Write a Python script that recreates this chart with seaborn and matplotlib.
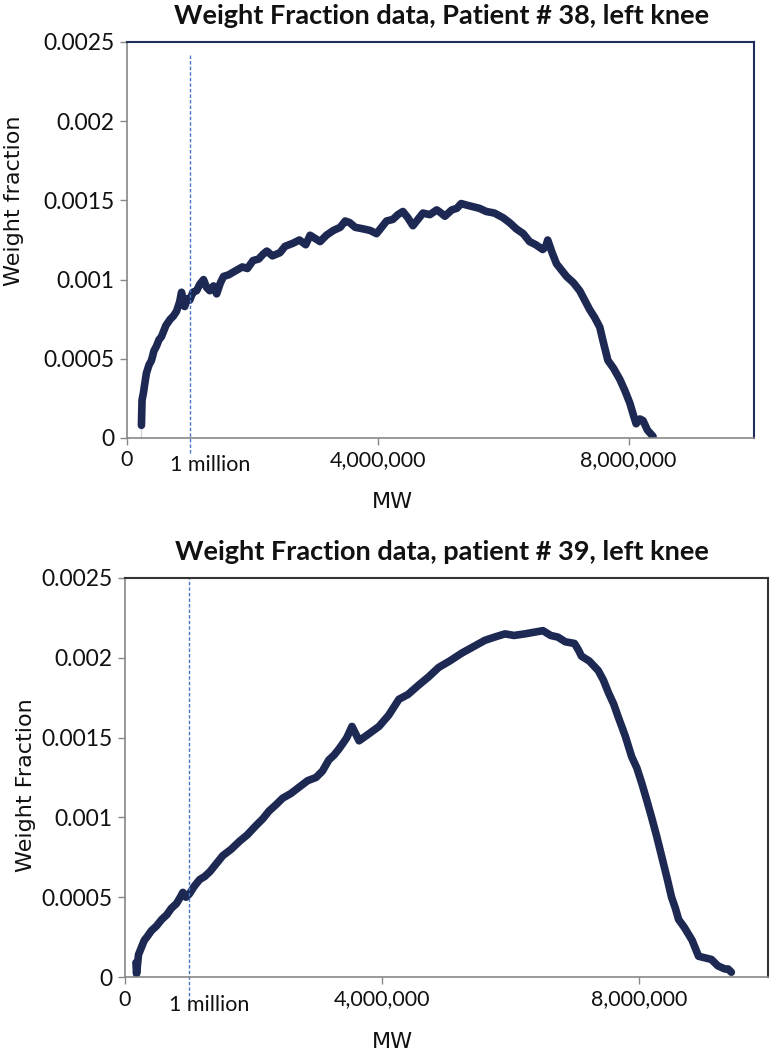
import numpy as np
import pandas as pd
import matplotlib
matplotlib.use("Agg")
import matplotlib.pyplot as plt
import seaborn as sns

# patient 38, MW in millions, weight fraction in 1e-3
mw_38 = [0.23, 0.23, 0.24, 0.26, 0.29, 0.31, 0.35, 0.39, 0.43, 0.47, 0.51, 0.55, 0.62, 0.69,
         0.74, 0.79, 0.84, 0.87, 0.90, 0.92, 0.96, 1.00, 1.05, 1.11, 1.16, 1.22, 1.27, 1.32,
         1.38, 1.43, 1.49, 1.54, 1.62, 1.75, 1.84, 1.92, 2.01, 2.10, 2.17, 2.23, 2.32, 2.44,
         2.52, 2.65, 2.75, 2.85, 2.92, 3.00, 3.08, 3.18, 3.29, 3.40, 3.48, 3.55, 3.64, 3.77,
         3.88, 3.98, 4.06, 4.14, 4.24, 4.32, 4.40, 4.48, 4.56, 4.64, 4.72, 4.83, 4.94, 5.01,
         5.07, 5.18, 5.26, 5.33, 5.42, 5.52, 5.62, 5.73, 5.86, 6.00, 6.10, 6.21, 6.32, 6.42,
         6.52, 6.63, 6.68, 6.71, 6.78, 6.85, 6.93, 7.01, 7.12, 7.22, 7.30, 7.38, 7.46, 7.54,
         7.60, 7.67, 7.76, 7.86, 7.94, 8.02, 8.08, 8.12, 8.18, 8.23, 8.30, 8.39]
wf_38 = [0.00, 0.16, 0.24, 0.28, 0.36, 0.41, 0.46, 0.49, 0.55, 0.58, 0.62, 0.64, 0.71, 0.75,
         0.77, 0.80, 0.86, 0.92, 0.85, 0.83, 0.88, 0.87, 0.92, 0.93, 0.97, 1.00, 0.95, 0.93,
         0.96, 0.91, 0.98, 1.02, 1.03, 1.06, 1.08, 1.07, 1.12, 1.13, 1.16, 1.18, 1.15, 1.17,
         1.21, 1.23, 1.25, 1.22, 1.28, 1.26, 1.24, 1.28, 1.31, 1.33, 1.37, 1.36, 1.33, 1.32,
         1.31, 1.29, 1.33, 1.37, 1.38, 1.41, 1.43, 1.39, 1.34, 1.38, 1.42, 1.41, 1.44, 1.42,
         1.40, 1.44, 1.45, 1.48, 1.47, 1.46, 1.45, 1.43, 1.42, 1.39, 1.36, 1.32, 1.29, 1.24,
         1.22, 1.19, 1.21, 1.25, 1.17, 1.10, 1.06, 1.02, 0.98, 0.93, 0.87, 0.81, 0.76, 0.70,
         0.60, 0.49, 0.44, 0.37, 0.30, 0.22, 0.14, 0.09, 0.12, 0.11, 0.05, 0.01]

# patient 39
mw_39 = [0.17, 0.18, 0.21, 0.26, 0.30, 0.34, 0.41, 0.49, 0.57, 0.65, 0.72, 0.80, 0.86, 0.90,
         0.95, 1.00, 1.08, 1.16, 1.24, 1.32, 1.42, 1.52, 1.65, 1.78, 1.90, 2.04, 2.14, 2.24,
         2.35, 2.45, 2.58, 2.71, 2.84, 2.97, 3.07, 3.17, 3.25, 3.33, 3.40, 3.45, 3.53, 3.58,
         3.64, 3.78, 3.95, 4.10, 4.26, 4.40, 4.57, 4.72, 4.88, 5.05, 5.24, 5.42, 5.60, 5.75,
         5.91, 6.05, 6.22, 6.36, 6.50, 6.62, 6.73, 6.85, 6.99, 7.05, 7.10, 7.22, 7.36, 7.44,
         7.52, 7.60, 7.67, 7.78, 7.88, 7.96, 8.04, 8.12, 8.19, 8.27, 8.35, 8.43, 8.50, 8.56,
         8.61, 8.70, 8.82, 8.88, 8.92, 9.02, 9.12, 9.22, 9.33, 9.38, 9.43]
wf_39 = [0.09, 0.02, 0.14, 0.19, 0.23, 0.25, 0.29, 0.32, 0.36, 0.39, 0.43, 0.46, 0.50, 0.53,
         0.50, 0.52, 0.57, 0.61, 0.63, 0.66, 0.71, 0.76, 0.80, 0.85, 0.89, 0.95, 0.99, 1.04,
         1.08, 1.12, 1.15, 1.19, 1.23, 1.25, 1.29, 1.36, 1.39, 1.43, 1.47, 1.50, 1.57, 1.53,
         1.48, 1.52, 1.57, 1.64, 1.74, 1.77, 1.83, 1.88, 1.94, 1.98, 2.03, 2.07, 2.11, 2.13,
         2.15, 2.14, 2.15, 2.16, 2.17, 2.14, 2.13, 2.10, 2.09, 2.05, 2.01, 1.98, 1.92, 1.86,
         1.78, 1.71, 1.63, 1.51, 1.38, 1.31, 1.21, 1.10, 1.00, 0.88, 0.75, 0.62, 0.50, 0.43,
         0.36, 0.31, 0.23, 0.17, 0.13, 0.12, 0.11, 0.07, 0.05, 0.05, 0.03]

y_ticks = [0, 0.0005, 0.001, 0.0015, 0.002, 0.0025]
y_labels = ["0", "0.0005", "0.001", "0.0015", "0.002", "0.0025"]
x_ticks = [0, 4e6, 8e6]
x_labels = ["0", "4,000,000", "8,000,000"]

sns.set_style("white")
plt.rcParams["font.family"] = ["Lato", "DejaVu Sans"]

navy = "#1d2952"
W, H = 770, 1050
fig = plt.figure(figsize=(7.7, 10.5), dpi=100)


def panel(rect, mw, wf, title, ylabel, frame_color, dash_top, dash_bottom, ylab_pos, title_y):
    l, t, r, b = rect
    ax = fig.add_axes([l / W, 1 - b / H, (r - l) / W, (b - t) / H])
    df = pd.DataFrame({"mw": np.array(mw) * 1e6, "wf": np.array(wf) * 1e-3})
    sns.lineplot(data=df, x="mw", y="wf", sort=False, ax=ax, color=navy,
                 linewidth=5.5, solid_joinstyle="round", solid_capstyle="round")
    ax.set_xlim(0, 1e7)
    ax.set_ylim(0, 0.0025)
    ax.axvline(1e6, ymin=dash_bottom, ymax=dash_top, color="#4a76c8", lw=1,
               ls=(0, (2.5, 1.5)), clip_on=False)
    ax.set_yticks(y_ticks)
    ax.set_yticklabels(y_labels, fontsize=16.5, color="#111111")
    ax.set_xticks(x_ticks)
    ax.set_xticklabels(x_labels, fontsize=15.5, color="#111111")
    ax.tick_params(axis="both", direction="out", length=5, width=1, color="#888888",
                   pad=4, left=True, bottom=True)
    for s in ["left", "bottom"]:
        ax.spines[s].set_color("#888888")
        ax.spines[s].set_linewidth(1.2)
    for s in ["top", "right"]:
        ax.spines[s].set_color(frame_color)
        ax.spines[s].set_linewidth(1.5)
    ax.text(0.68e6, -0.00011, "1 million", fontsize=15.5, ha="left", va="top",
            color="#111111")
    ax.set_xlabel("MW", family="DejaVu Sans", fontsize=16, va="center", color="#111111")
    ax.xaxis.set_label_coords((392 - l) / (r - l), -0.162)
    ax.set_ylabel(ylabel, family="DejaVu Sans", fontsize=16, va="center", color="#111111")
    ax.yaxis.set_label_coords(ylab_pos[0], ylab_pos[1])
    fig.text(442 / W, 1 - title_y / H, title, fontsize=19.5, fontweight="bold",
             ha="center", va="center", color="#111111")
    return ax


panel((127, 42, 754, 438), mw_38, wf_38,
      "Weight Fraction data, Patient # 38, left knee", "Weight fraction",
      "#1f2d5c", 0.967, -0.038, (-0.18, 0.60), 16)
panel((125, 578, 768, 977), mw_39, wf_39,
      "Weight Fraction data, patient # 39, left knee", "Weight Fraction",
      "#333333", 1.0, -0.075, (-0.154, 0.48), 552)

fig.savefig("out.png", dpi=100, facecolor="white")
